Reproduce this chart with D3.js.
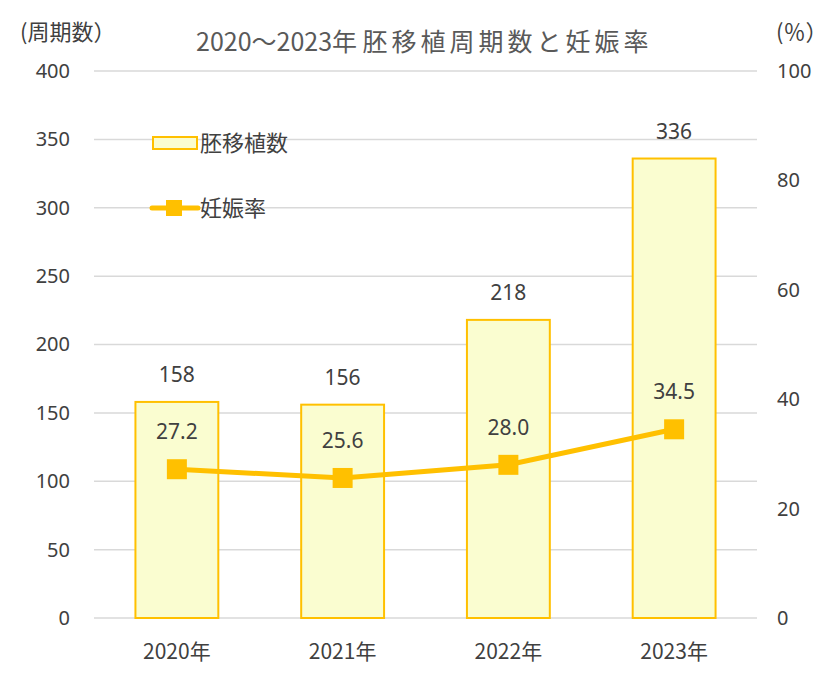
<!DOCTYPE html>
<html><head><meta charset="utf-8">
<script src="https://cdn.jsdelivr.net/npm/d3@7"></script>
<style>
body{margin:0;background:#fff;}
text{font-family:"Noto Sans CJK JP","Noto Sans",sans-serif;}
</style></head>
<body><svg id="c" width="840" height="680"></svg>
<script>
const years = ["2020年","2021年","2022年","2023年"];
const transfers = [158,156,218,336];
const pregRate = [27.2,25.6,28.0,34.5];
const leftTicks = [0,50,100,150,200,250,300,350,400];
const rightTicks = [0,20,40,60,80,100];

const svg = d3.select("#c");
const L=94, R=757, T=71, B=618;
const x = d3.scaleBand().domain(years).range([L,R]).paddingInner(0.5).paddingOuter(0.25);
const yL = d3.scaleLinear().domain([0,400]).range([B,T]);
const yR = d3.scaleLinear().domain([0,100]).range([B,T]);
const gold="#FFC000", fill="#FAFDD0", txt="#404040";
const numFont="'Noto Sans','Noto Sans CJK JP',sans-serif";

// gridlines
svg.append("g").selectAll("line").data(leftTicks).join("line")
  .attr("x1",L).attr("x2",R).attr("y1",d=>yL(d)).attr("y2",d=>yL(d))
  .attr("stroke","#d9d9d9").attr("stroke-width",1.5);

// left axis
const ga = svg.append("g").attr("transform",`translate(${L},0)`)
  .call(d3.axisLeft(yL).tickValues(leftTicks).tickSize(0).tickPadding(24));
ga.select(".domain").remove();
ga.selectAll("text").attr("font-size",20).attr("fill",txt).style("font-family",numFont);

// right axis
const gr = svg.append("g").attr("transform",`translate(${R},0)`)
  .call(d3.axisRight(yR).tickValues(rightTicks).tickSize(0).tickPadding(20));
gr.select(".domain").remove();
gr.selectAll("text").attr("font-size",20).attr("fill",txt).style("font-family",numFont);

// bottom axis
const gb = svg.append("g").attr("transform",`translate(0,${B})`)
  .call(d3.axisBottom(x).tickSize(0).tickPadding(26));
gb.select(".domain").remove();
gb.selectAll("text").attr("font-size",21).attr("fill",txt);

// bars
svg.append("g").selectAll("rect").data(transfers).join("rect")
  .attr("x",(d,i)=>x(years[i])).attr("width",x.bandwidth())
  .attr("y",d=>yL(d)).attr("height",d=>B-yL(d))
  .attr("fill",fill).attr("stroke",gold).attr("stroke-width",2);

svg.append("g").selectAll("text").data(transfers).join("text")
  .attr("x",(d,i)=>x(years[i])+x.bandwidth()/2).attr("y",d=>yL(d)-20)
  .attr("text-anchor","middle").attr("font-size",21).attr("fill",txt)
  .style("font-family",numFont).text(d=>d);

// line
const cx = i=>x(years[i])+x.bandwidth()/2;
svg.append("path").datum(pregRate)
  .attr("d",d3.line().x((d,i)=>cx(i)).y(d=>yR(d)))
  .attr("fill","none").attr("stroke",gold).attr("stroke-width",5);
svg.append("g").selectAll("rect").data(pregRate).join("rect")
  .attr("x",(d,i)=>cx(i)-10).attr("y",d=>yR(d)-10).attr("width",20).attr("height",20)
  .attr("fill",gold);
svg.append("g").selectAll("text").data(pregRate).join("text")
  .attr("x",(d,i)=>cx(i)).attr("y",d=>yR(d)-30)
  .attr("text-anchor","middle").attr("font-size",21).attr("fill",txt)
  .style("font-family",numFont).text(d=>d.toFixed(1));

// titles
const title = svg.append("text").attr("x",196).attr("y",51)
  .attr("font-size",25).attr("fill","#595959");
title.append("tspan").text("2020～2023年\u00A0");
title.append("tspan").attr("letter-spacing",4).text("胚移植周期数と妊娠率");
svg.append("text").attr("x",20).attr("y",40).attr("font-size",22).attr("fill",txt).text("(周期数）");
svg.append("text").attr("x",776).attr("y",40).attr("font-size",22).attr("fill",txt).text("(％）");

// legend
svg.append("rect").attr("x",153).attr("y",137).attr("width",44).attr("height",12)
  .attr("fill",fill).attr("stroke",gold).attr("stroke-width",2);
svg.append("text").attr("x",200).attr("y",151).attr("font-size",22).attr("fill",txt).text("胚移植数");
svg.append("line").attr("x1",152).attr("x2",198).attr("y1",208).attr("y2",208)
  .attr("stroke",gold).attr("stroke-width",5).attr("stroke-linecap","round");
svg.append("rect").attr("x",166).attr("y",200).attr("width",16).attr("height",16).attr("fill",gold);
svg.append("text").attr("x",200).attr("y",216).attr("font-size",22).attr("fill",txt).text("妊娠率");
</script></body></html>
